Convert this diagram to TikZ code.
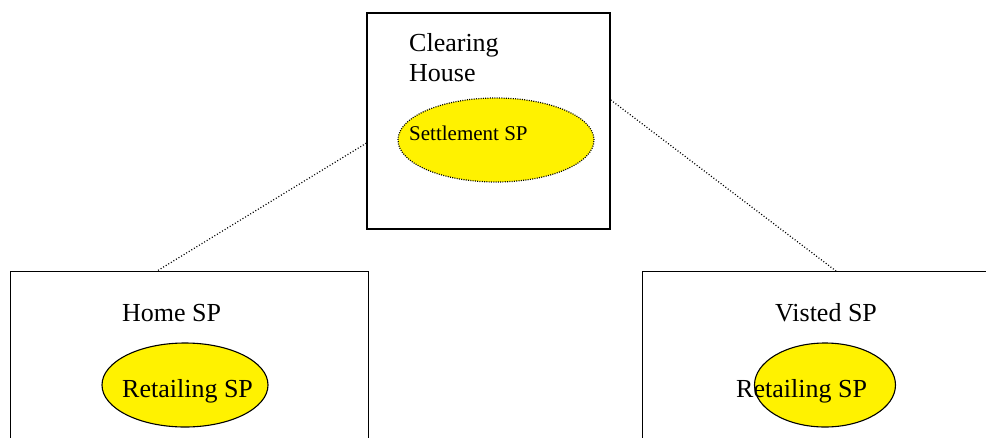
\documentclass[tikz,border=0pt]{standalone}
\usepackage{fontspec}
\setmainfont{Liberation Serif}
\usetikzlibrary{shapes.geometric,calc}
\begin{document}
\begin{tikzpicture}[x=1pt,y=-1pt,
  box/.style={draw,line width=1.4pt,rectangle,inner sep=0pt},
  oval/.style={ellipse,fill=yellow,draw,line width=1.1pt,inner sep=0pt},
  dotborder/.style={line width=1.2pt,dash pattern=on 1pt off 1.3pt},
  link/.style={line width=1.2pt,dash pattern=on 1pt off 2pt},
  lbl/.style={font=\fontsize{26}{30}\selectfont,inner sep=0pt,anchor=base west},
  smalllbl/.style={font=\fontsize{21}{25}\selectfont,inner sep=0pt,anchor=base west}]
\useasboundingbox (0,0) rectangle (986,437);
\clip (0,0) rectangle (986,437);
% boxes
\node[box,minimum width=243pt,minimum height=216pt] (ch) at (488.5,121) {};
\node[box,minimum width=358pt,minimum height=220pt,anchor=north west] (home) at (10,271) {};
\node[box,minimum width=400pt,minimum height=220pt,anchor=north west] (visit) at (642,271) {};
% ovals
\node[oval,dotborder,minimum width=196pt,minimum height=84pt] (settle) at (496,140) {};
\node[oval,minimum width=166pt,minimum height=84pt] (reth) at (185,385) {};
\node[oval,minimum width=141pt,minimum height=84pt] (retv) at (825,385) {};
% labels
\node[lbl] (chl1) at (409,51) {Clearing};
\node[lbl] (chl2) at (409,81) {House};
\node[smalllbl] (setl) at (409,140) {Settlement SP};
\node[lbl] (homel) at (122,321) {Home SP};
\node[lbl] (rethl) at (122,397) {Retailing SP};
\node[lbl] (visitl) at (775,321) {Visted SP};
\node[lbl] (retvl) at (736,397) {Retailing SP};
% links
\draw[link] ($(ch.north west)!0.602!(ch.south west)$) -- ([xshift=147pt]home.north west);
\draw[link] ($(ch.north east)!0.403!(ch.south east)$) -- ([xshift=194pt]visit.north west);
\end{tikzpicture}
\end{document}
